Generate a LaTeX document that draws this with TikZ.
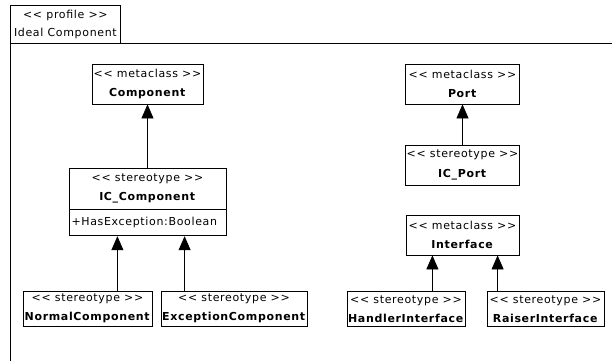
\documentclass[tikz,border=0pt]{standalone}
\usepackage{fontspec}
\setmainfont[LetterSpace=6]{DejaVu Sans}
\usetikzlibrary{arrows.meta}
\begin{document}
\begin{tikzpicture}[x=1pt,y=-1pt,
  cls/.style={draw,line width=0.8pt,fill=white,inner sep=0pt,align=center,
    font=\fontsize{11}{19.5}\selectfont},
  gen/.style={draw,line width=0.8pt,-{Triangle[length=14pt,width=12pt]}}]
\useasboundingbox (0,0) rectangle (612,361);
% frame
\draw[line width=0.8pt] (612,43) -- (10,43) -- (10,361);
\node[cls,anchor=north west,minimum width=110pt,minimum height=38pt,font=\fontsize{11}{18.5}\selectfont] (tab) at (10,5) {<{}< profile >{}>\\Ideal Component};
% left side
\node[cls,minimum width=111pt,minimum height=40pt] (comp) at (147.5,84) {<{}< metaclass >{}>\\\textbf{Component}};
\node[cls,minimum width=157pt,minimum height=41pt] (icc) at (147.5,188.5) {<{}< stereotype >{}>\\\textbf{IC\_Component}};
\node[cls,minimum width=157pt,minimum height=26pt,anchor=north,align=left,text width=152pt] (iccattr) at (icc.south) {+HasException:Boolean};
\node[cls,minimum width=129pt,minimum height=35pt] (nc) at (87.5,308.5) {<{}< stereotype >{}>\\\textbf{NormalComponent}};
\node[cls,minimum width=146pt,minimum height=35pt] (ec) at (234,308.5) {<{}< stereotype >{}>\\\textbf{ExceptionComponent}};
% right side
\node[cls,minimum width=114pt,minimum height=40pt] (port) at (462.5,84) {<{}< metaclass >{}>\\\textbf{Port}};
\node[cls,minimum width=114pt,minimum height=40pt] (icp) at (462.5,165) {<{}< stereotype >{}>\\\textbf{IC\_Port}};
\node[cls,minimum width=113pt,minimum height=40pt] (intf) at (462.5,235) {<{}< metaclass >{}>\\\textbf{Interface}};
\node[cls,minimum width=118pt,minimum height=35pt] (hi) at (406,309) {<{}< stereotype >{}>\\\textbf{HandlerInterface}};
\node[cls,minimum width=117pt,minimum height=35pt] (ri) at (545.5,309) {<{}< stereotype >{}>\\\textbf{RaiserInterface}};
% connectors
\draw[gen] (icc.north) -- (comp.south);
\draw[gen] ([xshift=-35pt]nc.north east) -- ([xshift=-35pt]nc.north east |- iccattr.south);
\draw[gen] ([xshift=24pt]ec.north west) -- ([xshift=24pt]ec.north west |- iccattr.south);
\draw[gen] (icp.north) -- (port.south);
\draw[gen] ([xshift=-33pt]hi.north east) -- ([xshift=-33pt]hi.north east |- intf.south);
\draw[gen] ([xshift=11pt]ri.north west) -- ([xshift=11pt]ri.north west |- intf.south);
\end{tikzpicture}
\end{document}
